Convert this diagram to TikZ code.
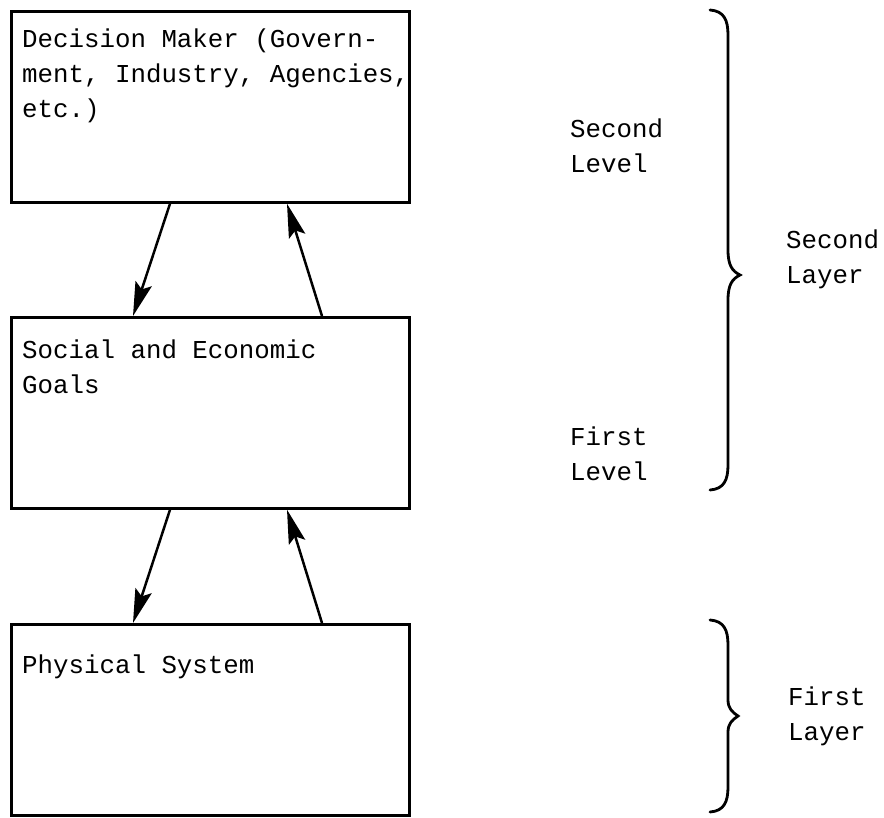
\documentclass[tikz,border=0pt]{standalone}
\usepackage{fontspec}
\setmonofont{Liberation Mono}
\usetikzlibrary{arrows.meta,calc}
\tikzset{
  box/.style={draw, line width=2.7pt, rectangle, inner sep=0pt, anchor=north west,
    minimum width=398pt, minimum height=191pt},
  txt/.style={font=\ttfamily\fontsize{25.8}{35}\selectfont, inner sep=0pt,
    align=left, anchor=base west},
  flow/.style={line width=2.5pt, -{Stealth[length=34pt,width=17pt,inset=6pt]}},
  brace/.style={line width=2.8pt, line cap=round}
}
\begin{document}
\begin{tikzpicture}[x=1pt,y=-1pt]
\useasboundingbox (0,0) rectangle (884,818);

% the three blocks
\node[box] (b1) at (10,10) {};
\node[box] (b2) at (10,316) {};
\node[box] (b3) at (10,623) {};

% block texts (anchored at the baseline of their last line)
\node[txt] (t1) at (22,118) {Decision Maker (Govern-\\ment, Industry, Agencies,\\etc.)};
\node[txt] (t2) at (22,393) {Social and Economic\\Goals};
\node[txt] (t3) at (22,673) {Physical System};

% level labels
\node[txt] (l2) at (570,173) {Second\\Level};
\node[txt] (l1) at (570,480) {First\\Level};

% layer labels
\node[txt] (y2) at (786,284) {Second\\Layer};
\node[txt] (y1) at (788,740) {First\\Layer};

% connectors between the blocks
\draw[flow] ([xshift=160pt]b1.south west) -- ([xshift=123pt]b2.north west);
\draw[flow] ([xshift=312pt]b2.north west) -- ([xshift=277pt]b1.south west);
\draw[flow] ([xshift=160pt]b2.south west) -- ([xshift=123pt]b3.north west);
\draw[flow] ([xshift=312pt]b3.north west) -- ([xshift=277pt]b2.south west);

% braces
\draw[brace] (710,10) .. controls (724,11) and (728,20) .. (728,35)
  -- (728,250) .. controls (728,265) and (732,271) .. (740,275)
  .. controls (732,279) and (728,285) .. (728,300)
  -- (728,465) .. controls (728,480) and (724,489) .. (710,490);
\draw[brace] (710,620) .. controls (724,621) and (728,630) .. (728,645)
  -- (728,700) .. controls (728,708) and (732,712) .. (738,716)
  .. controls (732,720) and (728,724) .. (728,732)
  -- (728,787) .. controls (728,802) and (724,811) .. (710,812);
\end{tikzpicture}
\end{document}
